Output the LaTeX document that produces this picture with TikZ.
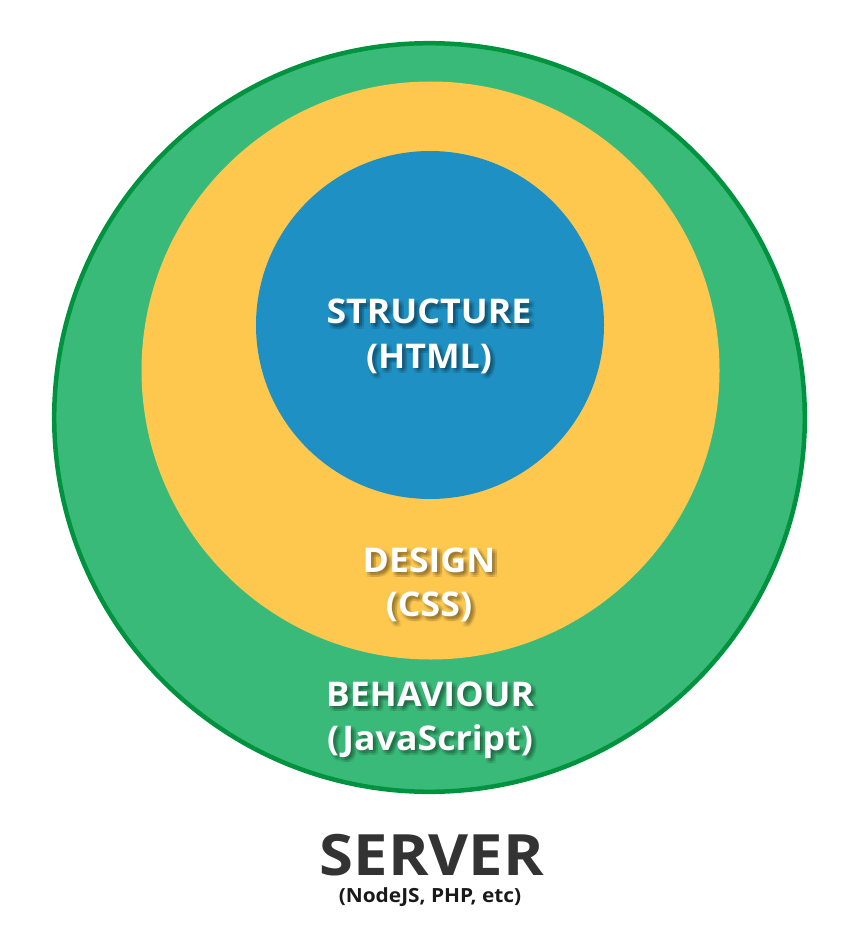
\documentclass[tikz,border=0pt]{standalone}
\usepackage{fontspec}
\setmainfont{Open Sans}
\newfontfamily\ringfont{Open Sans}[FakeStretch=1.05]
\newfontfamily\serverfont{Open Sans}[FakeStretch=1.08]
\newfontfamily\listfont{Open Sans}[FakeStretch=1.07]
\definecolor{ringgreen}{HTML}{39BA78}
\definecolor{ringedge}{HTML}{00933F}
\definecolor{ringyellow}{HTML}{FEC84F}
\definecolor{ringblue}{HTML}{1F90C3}
\definecolor{servergray}{HTML}{333333}
\tikzset{
  lbl/.style={anchor=base, inner sep=0pt, text=white,
    font=\ringfont\bfseries\fontsize{34}{34}\selectfont},
  lblshade/.style={lbl, text=black, text opacity=0.06},
}
% white label with a soft drop shadow
\newcommand\shadedlabel[3]{%
  \foreach \dx in {1,3,5}{%
    \foreach \dy in {1.5,3.5,5.5}{%
      \node[lblshade] at ([shift={(\dx,\dy)}]#2) {#3};}}%
  \node[lbl] (#1) at (#2) {#3};}
\begin{document}
\begin{tikzpicture}[x=1pt,y=-1pt]
\useasboundingbox (0,0) rectangle (858,933);
% rings
\path[fill=ringgreen, draw=ringedge, line width=4.5pt]
  (429.5,417.5) ellipse [x radius=375.3, y radius=374.3];
\path[fill=ringyellow] (430.5,370.5) circle [radius=289];
\path[fill=ringblue] (430,325) circle [radius=174];
% baselines of the text lines
\coordinate (p1) at (429,323.5);
\coordinate (p2) at (429,368);
\coordinate (p3) at (429,572);
\coordinate (p4) at (429,616);
\coordinate (p5) at (430,706);
\coordinate (p6) at (430,750);
\shadedlabel{structure}{p1}{STRUCTURE}
\shadedlabel{html}{p2}{(HTML)}
\shadedlabel{design}{p3}{DESIGN}
\shadedlabel{css}{p4}{(CSS)}
\shadedlabel{behaviour}{p5}{BEHAVIOUR}
\shadedlabel{js}{p6}{(JavaScript)}
% server caption
\node[anchor=base, inner sep=0pt, text=servergray,
  font=\serverfont\bfseries\fontsize{57}{57}\selectfont] (server) at (432,875) {SERVER};
\node[anchor=base, inner sep=0pt, text=black!90,
  font=\listfont\bfseries\fontsize{19.5}{19.5}\selectfont] (serverlist) at (430,902) {(NodeJS, PHP, etc)};
\end{tikzpicture}
\end{document}
